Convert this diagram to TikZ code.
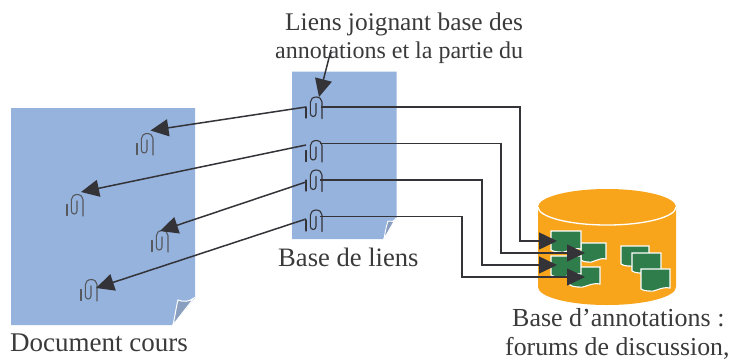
\documentclass[tikz,border=0pt]{standalone}
\usepackage{fontspec}
\setmainfont{Liberation Serif}
\usetikzlibrary{arrows.meta}
\definecolor{pageblue}{HTML}{95B3DD}
\definecolor{foldblue}{HTML}{8A9FBF}
\definecolor{drumorange}{HTML}{F9A51C}
\definecolor{notegreen}{HTML}{2E7D4B}
\definecolor{inkdark}{HTML}{333338}
\definecolor{clipgrey}{HTML}{55585C}
\definecolor{txtgrey}{HTML}{3A3A3A}
\tikzset{
  x=1pt,y=-1pt,
  lbl/.style={anchor=base west,inner sep=0pt,text=txtgrey,font=\fontsize{#1}{#1}\selectfont},
  linkarrow/.style={draw=inkdark,line width=1.5pt,-{Triangle[length=18pt,width=17pt]}},
  clipline/.style={draw=#1,line width=1.1pt,line cap=round},
  pics/paperclip/.style={code={
    \draw[clipline=#1] (-8,-0.5) -- (-8,10.5);
    \draw[clipline=#1] (8,11) -- (8,-5.5) arc[start angle=0,end angle=-180,x radius=5.8,y radius=5] -- (-3.6,6) arc[start angle=180,end angle=0,x radius=2.8,y radius=3] -- (2,-4);
  }},
  note/.style={draw=white,line width=1.1pt,fill=notegreen},
}
\newcommand{\notesheet}[4]{%
  \path[note] (#1,#2) -- (#3,#2) -- (#3,{#4-3}) .. controls ({#1+0.7*(#3-#1)},{#4-5}) and ({#1+0.45*(#3-#1)},{#4+2}) .. ({#1+0.25*(#3-#1)},{#4}) .. controls ({#1+0.15*(#3-#1)},{#4}) and ({#1+0.05*(#3-#1)},{#4-1}) .. (#1,{#4-2}) -- cycle;}
\begin{document}
\begin{tikzpicture}
\useasboundingbox (0,0) rectangle (734,360);
% document page
\fill[pageblue] (11,108) -- (195,108) -- (195,298) -- (172,325) -- (11,325) -- cycle;
\path[draw=white,line width=1pt,fill=foldblue] (173,325) .. controls (175,316) and (176,308) .. (178,300) .. controls (183,302) and (189,302) .. (194,298) -- cycle;
% link page
\fill[pageblue] (292,71.5) -- (396.5,71.5) -- (396.5,218) -- (383,239) -- (292,239) -- cycle;
\path[draw=white,line width=0.9pt,fill=foldblue] (384,239) .. controls (385,233) and (386,227) .. (388,221) .. controls (391,222) and (394,222) .. (396,218) -- cycle;
% drum
\fill[drumorange] (538,207) -- (538,287) arc[start angle=180,end angle=0,x radius=69,y radius=18] -- (676,207) arc[start angle=0,end angle=-180,x radius=69,y radius=18] -- cycle;
\draw[white,line width=1.3pt] (538,207) arc[start angle=180,end angle=0,x radius=69,y radius=18];
% notes
\notesheet{581}{243}{606}{262}
\notesheet{551}{231}{581}{252}
\notesheet{570}{267}{600}{287}
\notesheet{551}{256}{581}{277}
\notesheet{621}{246}{649}{266}
\notesheet{632}{253}{661}{273}
\notesheet{641}{269}{670}{291}
% clips
\pic at (145,144) {paperclip=clipgrey};
\pic at (75,205) {paperclip=clipgrey};
\pic at (160,241) {paperclip=clipgrey};
\pic at (89,290) {paperclip=clipgrey};
\pic at (314,107.5) {paperclip=inkdark};
\pic at (314,151) {paperclip=inkdark};
\pic at (314,180.5) {paperclip=inkdark};
\pic at (314,220.5) {paperclip=inkdark};
% anchors
\coordinate (L1) at (306,107);
\coordinate (L2) at (306,145);
\coordinate (L3) at (306,182);
\coordinate (L4) at (306,219);
\coordinate (R1) at (321,107);
\coordinate (R2) at (320,143.5);
\coordinate (R3) at (320,180);
\coordinate (R4) at (320,216.5);
\coordinate (D1) at (150.5,130.5);
\coordinate (D2) at (81,192);
\coordinate (D3) at (160,231);
\coordinate (D4) at (96,288);
\coordinate (N1) at (557,241);
\coordinate (N2) at (585,253);
\coordinate (N3) at (557,265);
\coordinate (N4) at (585,277);
\coordinate (T0) at (331,50);
\coordinate (T1) at (319,97);
% labels
\node[lbl=25.4] (t1) at (285,30) {Liens joignant base des};
\node[lbl=24] (t2) at (275,58) {annotations et la partie du};
\node[lbl=26.6] (t3) at (278,266) {Base de liens};
\node[lbl=27] (t4) at (10,351) {Document cours};
\node[lbl=26] (t5) at (512,326) {Base d’annotations :};
\node[lbl=25.8] (t6) at (505,355) {forums de discussion,};
% connectors
\draw[linkarrow] (T0) -- (T1);
\draw[linkarrow] (L1) -- (D1);
\draw[linkarrow] (L2) -- (D2);
\draw[linkarrow] (L3) -- (D3);
\draw[linkarrow] (L4) -- (D4);
\draw[linkarrow] (R1) -| (520,241) -- (N1);
\draw[linkarrow] (R2) -| (501,253) -- (N2);
\draw[linkarrow] (R3) -| (482,265) -- (N3);
\draw[linkarrow] (R4) -| (462,277) -- (N4);
\end{tikzpicture}
\end{document}
